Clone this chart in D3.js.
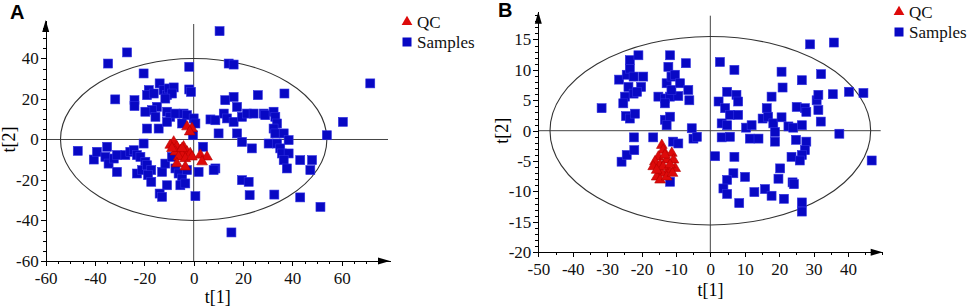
<!DOCTYPE html>
<html>
<head>
<meta charset="utf-8">
<script src="https://cdn.jsdelivr.net/npm/d3@7"></script>
<style>
  body { margin: 0; background: #fff; }
  svg text { font-family: "Liberation Serif", "Times New Roman", serif; }
  .axis path, .axis line { stroke: #000; shape-rendering: crispEdges; }
</style>
</head>
<body>
<svg id="chart" width="969" height="308"></svg>
<script>
// ---- data: [t1, t2] scores ----
const samplesA = [
  [10.5,53.5],[-27,43],[-34.7,37.5],[-20.3,32.6],[-1.8,35.9],[14.2,37.5],[16.2,37],[71.6,27.7],[60.5,8.7],[54,2.1],
  [36.8,22.7],[26,21.9],[16.2,21],[12.8,19.4],[-1.8,24.7],[-1.1,23.5],[-31.8,19.8],[-24,19.4],[-24,16.5],
  [-18.2,24.4],[-18.9,21.9],[-16.2,22.7],[-13.8,27.7],[-12.2,24.4],[-10.8,21.9],[-10.1,25.2],[-8.1,25.7],[-8.8,22.7],
  [-11.5,20.2],[-14.9,16.1],[-16.9,14.5],[-19.6,13.7],[-15.5,11.2],[-18.9,5.4],[-14.2,5.4],[-10.8,13.7],[-9.5,11.2],
  [-10.8,8.7],[-7.4,12.8],[-4.1,12.8],[-2.7,12],[-4.7,7.9],[0,10.4],[0.7,7.9],[-0.3,2.1],
  [6.8,9.9],[8.8,9.5],[10.1,3],[12.2,12.8],[13.5,10.4],[16.2,8.7],[17.6,16.1],[19.6,11.2],[21.6,12.8],[24.3,12.8],
  [28.4,12.8],[29,12],[32.4,13.7],[33.1,11.2],[33.8,7.9],[32.4,5.4],[33.1,3],[36.5,3],[38.5,-0.3],[30.4,-2],
  [33.8,-2],[35.1,-4.4],[35.8,-6.9],[38.5,-6.9],[36.5,-10.2],[37.8,-14.3],[43.2,-10.2],[48,-10.2],[47.3,-15.1],
  [17.6,3],[19.6,-1.2],[23.6,-4.4],[19.6,-20.1],[22.3,-20.9],[22.7,-27.5],[32.7,-27.2],[43.2,-28.6],[51.4,-33.3],
  [15.3,-45.9],[3.8,-3.6],[2,-16],[0.7,-28],[8.8,-14.3],[8.1,-15.1],
  [-47,-5.6],[-40.5,-9.9],[-39.2,-6.1],[-35.1,-3.6],[-35.8,-8.6],[-34.5,-11.9],[-32.4,-9.4],[-31.1,-7.7],[-31.1,-16],
  [-27.7,-7.7],[-25.7,-6.1],[-24.3,-5.3],[-23,-7.7],[-20.3,-2],[-21.6,-8.6],[-19.6,-11],[-23,-16.8],[-20.9,-15.1],
  [-18.9,-12.7],[-17.2,-15.1],[-18.5,-17.6],[-17.2,-20.9],[-12.8,-16],[-11.5,-11.9],[-10.8,-22.6],[-13.8,-26.7],
  [-12.8,-28.3],[-7.4,-14.3],[-6.1,-16.8],[-4.7,-19.3],[-5.4,-22.6],[-3.4,-21.7],[-2.7,-15.1],[-8.8,-8.6]
];
const qcA = [
  [-2.7,6.3],[-0.7,5.4],[-1.6,3.8],[-8.1,-1.2],[-9.5,-2.8],[-6.8,-3.6],[-5.4,-5.3],[-7.4,-6.1],[-4.1,-3.6],
  [-2.7,-6.1],[-4.7,-7.7],[-1.4,-6.9],[-6.1,-8.6],[-3.4,-9.4],[-8.8,-4.4],[2.7,-7.7],[5.4,-8.6],[3.4,-11],
  [-6.8,-11.9],[-3.4,-13.5],[-0.7,-8.6],[-4.7,-4.4]
];
const samplesB = [
  [-31.6,3.7],[-26.5,8.4],[-25.8,-5.1],[-24.3,-4],[-22.1,-3.2],[-22.2,-1.1],[-24.8,5.6],[-25.3,4.5],[-24.5,2.4],
  [-23.4,2],[-21.9,2.8],[-23.8,7.2],[-24.3,9.2],[-23.4,10.2],[-23.4,11.6],[-20.9,12.4],[-22.3,8.9],[-19.5,8.9],
  [-20.1,7.2],[-22.3,6.1],[-21.3,6.4],[-15.1,5.6],[-13.2,5.3],[-11.7,5.6],[-9.3,5.7],[-11.7,12.4],[-12.2,10.5],
  [-12.7,7.8],[-11.3,8.9],[-10.3,9.2],[-11.3,6.7],[-8.8,7.8],[-7.1,11.1],[-6.4,6.7],[-6.1,5],[-13.2,4.5],
  [-13.2,1.8],[-11.7,2.3],[-12.7,0.9],[-16.6,-1.1],[-10.8,-1.8],[-9.3,-2.1],[-5.4,0.4],[-4.9,-1.3],[-3.9,-1],
  [-11.7,-8.4],
  [2.8,11.3],[7,10],[2.4,4.8],[4.9,6.4],[7.6,5.9],[8.1,4.8],[4.3,3.7],[5.7,2.6],[8.1,2.6],[3.3,1.2],[4.9,0.9],
  [3.3,-1.1],[5.7,-1],[1.4,-4.2],[7,-4.3],[6.7,-7],[4.9,-8.1],[3.8,-9.5],[4.9,-10.4],[8.4,-11.9],[10.1,-7.6],
  [12.8,-10.1],[15.9,-9.6],[17.8,-10.7],[21.4,-11.2],[19.8,-7.9],[20.3,-6.2],[23.9,-8.5],[24.3,-8.8],[26.6,-11.8],
  [26.6,-13.3],[10.4,0.5],[12,0.9],[11.5,-1.3],[14,-1.3],[15.2,2],[16.4,3.7],[17.8,5.6],[16.8,2.3],[18.3,1.2],
  [18.8,-0.2],[18.8,-1.8],[20.7,9.7],[21,7.1],[20.7,2.2],[22.7,0.7],[24.1,0.5],[25.1,3.9],[26.6,8.3],[27.5,3.7],
  [27.9,3.1],[26.6,0.9],[24.9,-1.5],[27.9,-1.8],[27.5,-3.2],[26.6,-4],[23.6,-4.3],[26,-4.9],[30.9,5],[31.4,5.9],
  [31.4,3.4],[32.1,1.5],[32.2,9.3],[29,14.2],[35.9,14.5],[35.6,6],[40.3,6.4],[44.5,6.2],[37.5,-0.5],[46.9,-4.9]
];
const qcB = [
  [-14.1,-2.4],[-13.7,-3.2],[-15.1,-4.3],[-16.1,-5.1],[-16.6,-5.9],[-14.6,-5.6],[-12.7,-4.8],[-11.2,-3.7],
  [-10.7,-4.8],[-10.2,-6.2],[-12.2,-6.5],[-14.1,-7],[-15.6,-7.6],[-14.6,-8.1],[-12.7,-7.6],[-11,-7],[-13.7,-5.9],
  [-15.6,-6.5],[-11.7,-5.6],[-13.2,-4]
];
// ellipse radii (t1, t2) of the Hotelling boundary
const ellipseA = [54, 40];
const ellipseB = [46.6, 15.5];
const ticksAx = [-60, -40, -20, 0, 20, 40, 60];
const ticksAy = [-60, -40, -20, 0, 20, 40];
const ticksBx = [-50, -40, -30, -20, -10, 0, 10, 20, 30, 40];
const ticksBy = [-20, -15, -10, -5, 0, 5, 10, 15];
const legendLabels = ["QC", "Samples"];

const svg = d3.select("#chart");
svg.append("rect").attr("width", 969).attr("height", 308).attr("fill", "#fff");

const serif = "'Liberation Serif', 'Times New Roman', serif";

const drawPanel = (cfg) => {
  const x = d3.scaleLinear().domain(cfg.xDomain).range(cfg.xRange);
  const y = d3.scaleLinear().domain(cfg.yDomain).range(cfg.yRange);
  const g = svg.append("g");
  const [x0, x1] = cfg.xDomain;
  const [y0, y1] = cfg.yDomain;

  // crosshair at origin
  g.append("line").attr("x1", x(0)).attr("x2", x(0)).attr("y1", y(y1) + 4).attr("y2", y(y0))
    .attr("stroke", "#444").attr("stroke-width", 1);
  g.append("line").attr("x1", x(x0)).attr("x2", x(x1) - 2).attr("y1", y(0)).attr("y2", y(0))
    .attr("stroke", "#444").attr("stroke-width", 1);

  // ellipse
  g.append("ellipse")
    .attr("cx", x(0)).attr("cy", y(0))
    .attr("rx", x(cfg.ellipse[0]) - x(0))
    .attr("ry", y(0) - y(cfg.ellipse[1]))
    .attr("fill", "none").attr("stroke", "#333").attr("stroke-width", 1.1);

  // axes: minor then major
  const xAxisY = y(y0), yAxisX = x(x0);
  g.append("g").attr("class", "axis").attr("transform", `translate(0,${xAxisY})`)
    .call(d3.axisBottom(x).tickValues(d3.range(x0, x1, cfg.xMinor)).tickSize(3).tickSizeOuter(0).tickFormat(""));
  g.append("g").attr("class", "axis").attr("transform", `translate(${yAxisX},0)`)
    .call(d3.axisLeft(y).tickValues(d3.range(y0, y1, cfg.yMinor)).tickSize(3).tickSizeOuter(0).tickFormat(""));

  const fmt = d => String(d);
  const xAxis = g.append("g").attr("class", "axis").attr("transform", `translate(0,${xAxisY})`)
    .call(d3.axisBottom(x).tickValues(cfg.xTicks).tickFormat(fmt).tickSize(5).tickPadding(6).tickSizeOuter(0));
  const yAxis = g.append("g").attr("class", "axis").attr("transform", `translate(${yAxisX},0)`)
    .call(d3.axisLeft(y).tickValues(cfg.yTicks).tickFormat(fmt).tickSize(5).tickPadding(2).tickSizeOuter(0));
  [xAxis, yAxis].forEach(a => {
    a.attr("font-family", serif).attr("font-size", 17);
    a.selectAll("text").attr("fill", "#111");
  });

  // arrow heads
  g.append("path")
    .attr("d", `M${x(x1)},${xAxisY} L${x(x1) - 12},${xAxisY - 3.5} L${x(x1) - 12},${xAxisY + 3.5} Z`)
    .attr("fill", "#000");
  g.append("path")
    .attr("d", `M${yAxisX},${y(y1)} L${yAxisX - 3.5},${y(y1) + 12} L${yAxisX + 3.5},${y(y1) + 12} Z`)
    .attr("fill", "#000");

  // axis titles
  g.append("text").attr("x", (x(x0) + x(x1)) / 2 + cfg.xTitleShift).attr("y", cfg.xTitleY)
    .attr("text-anchor", "middle").style("font-size", "18px").text("t[1]");
  g.append("text").attr("transform", `translate(${cfg.yTitleX},${y(0)}) rotate(-90)`)
    .attr("text-anchor", "middle").style("font-size", "18px").text("t[2]");

  // samples (squares) then QC (triangles)
  const s = 9;
  g.append("g").selectAll("rect").data(cfg.samples).join("rect")
    .attr("x", d => x(d[0]) - s / 2).attr("y", d => y(d[1]) - s / 2)
    .attr("width", s).attr("height", s)
    .attr("fill", "#0808c4").attr("stroke", "#3030e0").attr("stroke-width", 0.6);
  const tri = d3.symbol().type(d3.symbolTriangle).size(50);
  g.append("g").selectAll("path").data(cfg.qc).join("path")
    .attr("transform", d => `translate(${x(d[0])},${y(d[1])})`)
    .attr("d", tri)
    .attr("fill", "#dd0a0a").attr("stroke", "#b50000").attr("stroke-width", 0.6);

  // panel letter
  g.append("text").attr("x", cfg.letter[1]).attr("y", cfg.letter[2])
    .style("font-family", "'Liberation Sans', Arial, sans-serif").style("font-weight", "bold")
    .style("font-size", "20px").text(cfg.letter[0]);

  // legend
  const lg = g.append("g").attr("transform", `translate(${cfg.legend[0]},${cfg.legend[1]})`);
  lg.append("path").attr("d", tri).attr("fill", "#dd0a0a");
  lg.append("rect").attr("x", -4.5).attr("y", 15.5).attr("width", 9).attr("height", 9).attr("fill", "#0808c4");
  lg.selectAll("text").data(legendLabels).join("text")
    .attr("x", 10).attr("y", (d, i) => 5.5 + i * 20)
    .style("font-size", "17px").attr("fill", "#111").text(d => d);
};

drawPanel({
  xDomain: [-60, 79.6], yDomain: [-60, 59],
  xRange: [45.7, 390], yRange: [261, 20],
  xTicks: ticksAx, yTicks: ticksAy, xMinor: 5, yMinor: 5,
  ellipse: ellipseA, samples: samplesA, qc: qcA,
  xTitleShift: 0, xTitleY: 303, yTitleX: 15,
  letter: ["A", 10, 19], legend: [407, 22]
});

drawPanel({
  xDomain: [-50, 50.1], yDomain: [-20, 19.57],
  xRange: [538.3, 882.7], yRange: [252.3, 11.7],
  xTicks: ticksBx, yTicks: ticksBy, xMinor: 5, yMinor: 1,
  ellipse: ellipseB, samples: samplesB, qc: qcB,
  xTitleShift: 0, xTitleY: 296, yTitleX: 508,
  letter: ["B", 498, 17], legend: [899, 12]
});
</script>
</body>
</html>
